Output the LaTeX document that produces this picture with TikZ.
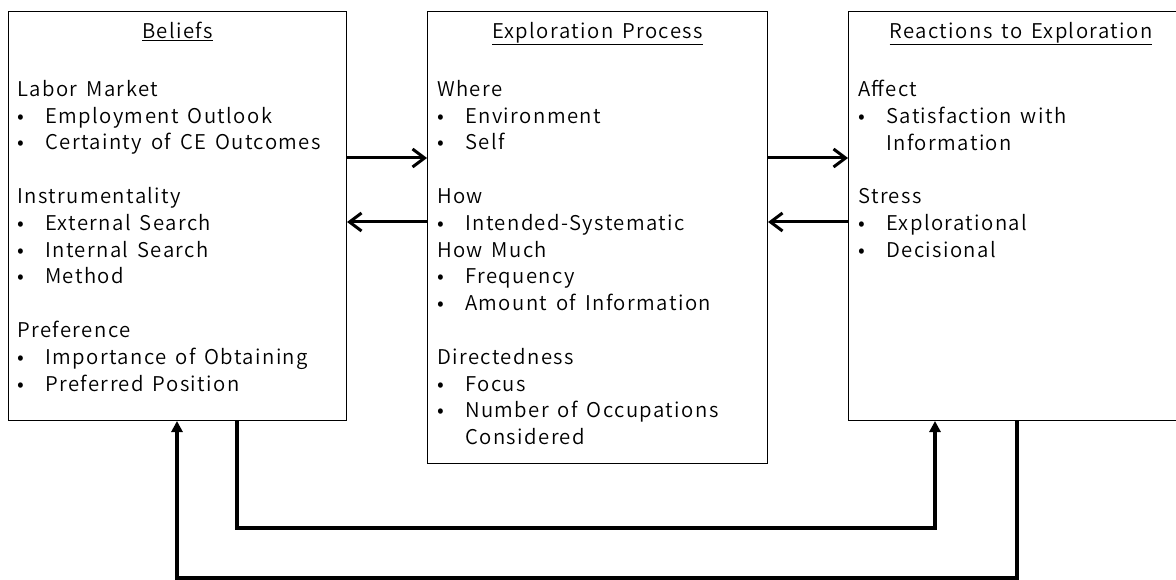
\documentclass[tikz,border=0pt]{standalone}
\usepackage{fontspec}
\setmainfont{Noto Sans CJK JP}[UprightFont=* DemiLight, LetterSpace=7, WordSpace=1.5]
\usetikzlibrary{arrows.meta,positioning}

\newcommand{\bul}[1]{\makebox[28pt][l]{\textbullet}#1}
\newcommand{\cont}[1]{\hspace*{28pt}#1}

\tikzset{
  panel/.style={draw, line width=1pt, anchor=north west, inner sep=0pt},
  head/.style={inner sep=0pt, font=\fontsize{20.3}{24}\selectfont},
  body/.style={anchor=north west, inner sep=0pt, align=left,
    font=\fontsize{20.3}{26.8}\selectfont},
  flow/.style={line width=3pt, -{Straight Barb[length=12pt,width=18pt]}},
  loopline/.style={line width=3.2pt, -{Triangle[length=11pt,width=11pt]}},
}

\begin{document}
\begin{tikzpicture}[x=1pt,y=-1pt]
\clip (0,0) rectangle (1176,580);
\fill[white] (0,0) rectangle (1176,580);

% the three panels
\node[panel, minimum width=338pt, minimum height=409pt] (beliefs) at (8,11) {};
\node[panel, minimum width=340pt, minimum height=452pt] (process) at (427,11) {};
\node[panel, minimum width=345pt, minimum height=409pt] (reactions) at (848,11) {};

\node[head, below=11pt of beliefs.north] (beliefsT) {\underline{Beliefs}};
\node[head, below=11pt of process.north] (processT) {\underline{Exploration Process}};
\node[head, below=11pt of reactions.north] (reactionsT) {\underline{Reactions to Exploration}};

\node[body] (beliefsB) at ([shift={(9,69)}]beliefs.north west) {%
  Labor Market\\
  \bul{Employment Outlook}\\
  \bul{Certainty of CE Outcomes}\\[26.8pt]
  Instrumentality\\
  \bul{External Search}\\
  \bul{Internal Search}\\
  \bul{Method}\\[26.8pt]
  Preference\\
  \bul{Importance of Obtaining}\\
  \bul{Preferred Position}};

\node[body] (processB) at ([shift={(10,69)}]process.north west) {%
  Where\\
  \bul{Environment}\\
  \bul{Self}\\[26.8pt]
  How\\
  \bul{Intended-Systematic}\\
  How Much\\
  \bul{Frequency}\\
  \bul{Amount of Information}\\[26.8pt]
  Directedness\\
  \bul{Focus}\\
  \bul{Number of Occupations}\\
  \cont{Considered}};

\node[body] (reactionsB) at ([shift={(10,69)}]reactions.north west) {%
  Affect\\
  \bul{Satisfaction with}\\
  \cont{Information}\\[26.8pt]
  Stress\\
  \bul{Explorational}\\
  \bul{Decisional}};

% rows and bends of the connectors
\coordinate (rowA) at (0,158);
\coordinate (rowB) at (0,222);
\coordinate (fwdA) at (237,528);
\coordinate (fwdB) at (935,528);
\coordinate (backA) at (1017,578);
\coordinate (backB) at (177,578);

\draw[flow] (beliefs.east |- rowA) -- (process.west |- rowA);
\draw[flow] (process.west |- rowB) -- (beliefs.east |- rowB);
\draw[flow] (process.east |- rowA) -- (reactions.west |- rowA);
\draw[flow] (reactions.west |- rowB) -- (process.east |- rowB);

\draw[loopline] (beliefs.south -| fwdA) -- (fwdA) -- (fwdB) -- (reactions.south -| fwdB);
\draw[loopline] (reactions.south -| backA) -- (backA) -- (backB) -- (beliefs.south -| backB);
\end{tikzpicture}
\end{document}
